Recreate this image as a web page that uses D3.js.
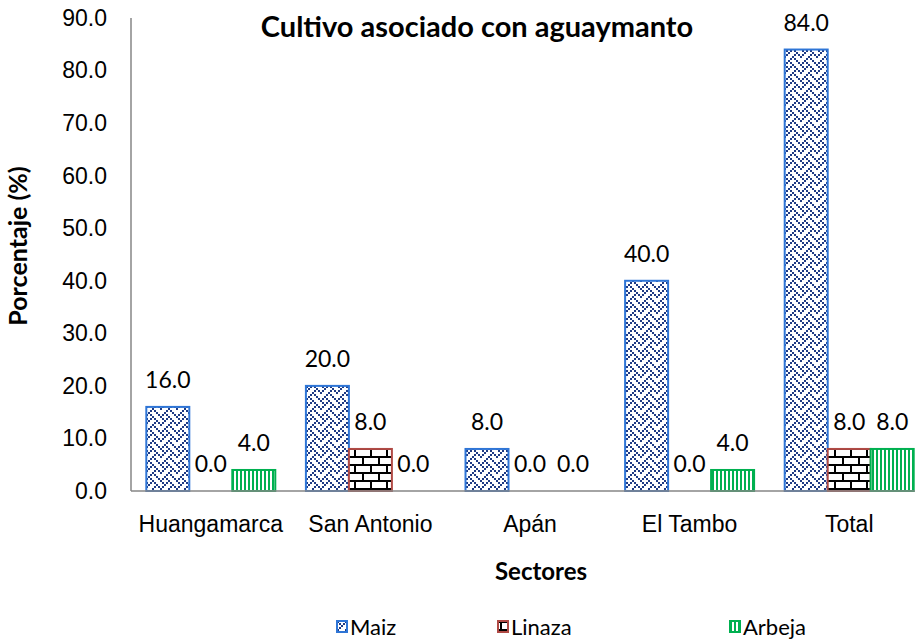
<!DOCTYPE html>
<meta charset="utf-8">
<style>
body{ margin:0; background:#fff; }
svg{ font-family: Lato, "Open Sans", sans-serif; }
.axis .domain{ stroke:#868686; stroke-width:1.5px; }
.axis text{ font-size:23px; fill:#000; }
</style>
<body>
<div class="wrap"></div>
<script src="https://d3js.org/d3.v7.min.js"></script>
<script>
const categories = ["Huangamarca", "San Antonio", "Apán", "El Tambo", "Total"];
const seriesNames = ["Maiz", "Linaza", "Arbeja"];
const maiz   = [16.0, 20.0, 8.0, 40.0, 84.0];
const linaza = [0.0, 8.0, 0.0, 0.0, 8.0];
const arbeja = [4.0, 0.0, 0.0, 4.0, 8.0];
const yTicks = [0, 10, 20, 30, 40, 50, 60, 70, 80, 90];

const width = 915, height = 643;
const svg = d3.select(".wrap").append("svg")
    .attr("width", width).attr("height", height);

// patterns
const defs = svg.append("defs");
// weave for Maiz
const weave = [0x88, 0x54, 0x22, 0x45, 0x88, 0x14, 0x22, 0x51];
const pw = defs.append("pattern").attr("id", "p-maiz")
    .attr("patternUnits", "userSpaceOnUse").attr("width", 16).attr("height", 16);
pw.append("rect").attr("width", 16).attr("height", 16).attr("fill", "#fff");
weave.forEach((b, r) => {
    for (let c = 0; c < 8; c++) {
        if (b & (0x80 >> c)) {
            pw.append("rect").attr("x", c * 2).attr("y", r * 2)
              .attr("width", 2).attr("height", 2).attr("fill", "#1f3b84");
        }
    }
});
// brick for Linaza
const pb = defs.append("pattern").attr("id", "p-linaza")
    .attr("patternUnits", "userSpaceOnUse").attr("width", 16).attr("height", 16);
pb.append("rect").attr("width", 16).attr("height", 16).attr("fill", "#fff");
pb.append("rect").attr("x", 0).attr("y", 0).attr("width", 16).attr("height", 2).attr("fill", "#000");
pb.append("rect").attr("x", 0).attr("y", 8).attr("width", 16).attr("height", 2).attr("fill", "#000");
pb.append("rect").attr("x", 2).attr("y", 0).attr("width", 2).attr("height", 8).attr("fill", "#000");
pb.append("rect").attr("x", 10).attr("y", 8).attr("width", 2).attr("height", 8).attr("fill", "#000");
// vertical stripes for Arbeja
const ps = defs.append("pattern").attr("id", "p-arbeja")
    .attr("patternUnits", "userSpaceOnUse").attr("width", 4).attr("height", 4);
ps.append("rect").attr("width", 4).attr("height", 4).attr("fill", "#fff");
ps.append("rect").attr("x", 0).attr("width", 2).attr("height", 4).attr("fill", "#00b050");

const styles = {
    Maiz:   { fill: "url(#p-maiz)",   stroke: "#2e75d6" },
    Linaza: { fill: "url(#p-linaza)", stroke: "#b04a45" },
    Arbeja: { fill: "url(#p-arbeja)", stroke: "#00b050" }
};
const values = { Maiz: maiz, Linaza: linaza, Arbeja: arbeja };

const x = d3.scaleBand().domain(categories).range([131, 929]).padding(0);
const x1 = d3.scaleBand().domain(seriesNames).range([0, x.bandwidth()]).paddingInner(0).paddingOuter(0.356);
const y = d3.scaleLinear().domain([0, 90]).range([491, 18]);

// y axis
svg.append("g").attr("class", "axis")
    .attr("transform", "translate(131,0)")
    .call(d3.axisLeft(y).tickValues(yTicks).tickFormat(d3.format(".1f")).tickSize(0).tickPadding(24))
    .call(g => g.select(".domain").attr("d", `M0,${y(0)}V${y(90)}`));

// bars
const rows = [];
categories.forEach((c, i) => seriesNames.forEach(s => rows.push({ c, s, v: values[s][i] })));

svg.append("g").selectAll("rect").data(rows.filter(d => d.v > 0)).join("rect")
    .attr("x", d => x(d.c) + x1(d.s))
    .attr("y", d => y(d.v))
    .attr("width", x1.bandwidth())
    .attr("height", d => y(0) - y(d.v))
    .attr("fill", d => styles[d.s].fill)
    .attr("stroke", d => styles[d.s].stroke)
    .attr("stroke-width", 2);

// x axis
svg.append("g").attr("class", "axis")
    .attr("transform", `translate(0,${y(0)})`)
    .call(d3.axisBottom(x).tickSize(0).tickPadding(25))
    .call(g => g.select(".domain").attr("d", `M131,0H915`));

// data labels
svg.append("g").selectAll("text").data(rows).join("text")
    .attr("x", d => x(d.c) + x1(d.s) + x1.bandwidth() / 2)
    .attr("y", d => y(d.v) - 19)
    .attr("text-anchor", "middle")
    .style("font-size", "23px")
    .text(d => d3.format(".1f")(d.v));

// titles
svg.append("text").attr("x", 477).attr("y", 37).attr("text-anchor", "middle")
    .style("font-size", "29px").style("font-weight", "bold")
    .text("Cultivo asociado con aguaymanto");
svg.append("text").attr("x", 541).attr("y", 580).attr("text-anchor", "middle")
    .style("font-size", "24px").style("font-weight", "bold")
    .text("Sectores");
svg.append("text").attr("transform", "translate(27,246) rotate(-90)").attr("text-anchor", "middle")
    .style("font-size", "25px").style("font-weight", "bold")
    .text("Porcentaje (%)");

// legend
const legendX = { Maiz: 337, Linaza: 498, Arbeja: 730 };
const lg = svg.append("g").selectAll("g").data(seriesNames).join("g")
    .attr("transform", d => `translate(${legendX[d]},621)`);
lg.append("rect").attr("width", 10).attr("height", 11)
    .attr("fill", d => styles[d].fill).attr("stroke", d => styles[d].stroke).attr("stroke-width", 2);
lg.append("text").attr("x", 13).attr("y", 14).style("font-size", "22px").text(d => d);
</script>
</body>
